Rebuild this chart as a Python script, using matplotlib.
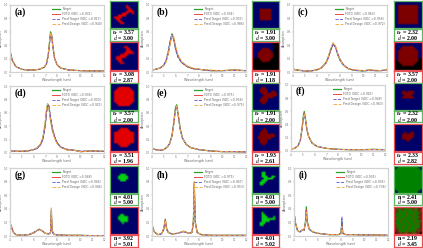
import matplotlib; matplotlib.use("Agg")
import matplotlib.pyplot as plt
import numpy as np

W, H = 423, 248
plt.rcParams["font.family"] = "DejaVu Sans"
plt.rcParams["mathtext.fontset"] = "stix"

COL = {"n": (0, 0, 105), "r": (225, 0, 0), "D": (125, 0, 0), "k": (0, 0, 0), "g": (0, 130, 0),
       "G": (0, 205, 20), "o": (90, 85, 0), "b": (110, 30, 25)}

XTICKS = [4, 5, 6, 7, 8, 9, 10, 11, 12]
YTICKS = [0, .2, .4, .6, .8, 1.0]

# ---- spectra ----
A_WL = [4, 4.05, 4.2, 4.5, 5, 5.5, 6, 6.5, 6.9, 7.1, 7.25, 7.35, 7.45, 7.55, 7.65, 7.8, 8, 8.3, 9, 10, 11, 12]
A_TARGET = [.30, .28, .17, .08, .04, .03, .03, .04, .07, .12, .25, .42, .60, .55, .38, .20, .11, .06, .03, .02, .015, .015]
A_FDTD = [.30, .28, .17, .08, .04, .03, .03, .04, .07, .12, .24, .40, .57, .54, .38, .20, .11, .06, .03, .02, .015, .015]
A_PRED_T = [.29, .27, .17, .08, .04, .03, .03, .04, .07, .12, .24, .41, .58, .53, .36, .19, .11, .06, .03, .02, .015, .015]
A_PRED_D = [.31, .28, .16, .08, .04, .03, .03, .04, .07, .13, .26, .43, .59, .53, .36, .19, .11, .06, .03, .02, .015, .015]

B_WL = [4, 4.3, 4.7, 5, 5.2, 5.4, 5.55, 5.7, 5.85, 6, 6.2, 6.5, 7, 7.5, 8, 9, 10, 11, 12]
B_TARGET = [.03, .04, .06, .10, .16, .30, .45, .57, .50, .36, .24, .15, .08, .05, .04, .02, .02, .03, .02]
B_FDTD = [.03, .04, .06, .10, .16, .29, .44, .55, .50, .37, .25, .15, .08, .05, .04, .02, .02, .03, .02]
B_PRED_T = [.03, .04, .06, .11, .18, .33, .48, .56, .47, .33, .22, .14, .08, .05, .04, .02, .02, .02, .02]
B_PRED_D = [.03, .04, .06, .10, .15, .28, .42, .55, .52, .39, .26, .16, .09, .06, .04, .03, .02, .03, .02]

C_WL = [4, 4.3, 5, 5.5, 6, 6.4, 6.8, 7, 7.2, 7.4, 7.6, 7.8, 8, 8.3, 8.7, 9.2, 10, 10.5, 11, 11.5, 12]
C_TARGET = [.04, .03, .015, .015, .03, .06, .14, .22, .33, .42, .38, .27, .18, .10, .05, .025, .015, .03, .02, .02, .04]
C_FDTD = [.05, .03, .015, .015, .03, .06, .13, .21, .32, .41, .39, .28, .19, .11, .05, .03, .02, .03, .02, .02, .03]
C_PRED_T = [.04, .03, .015, .015, .03, .06, .13, .21, .32, .41, .37, .26, .17, .10, .05, .025, .015, .02, .02, .02, .03]
C_PRED_D = [.05, .03, .02, .015, .03, .06, .14, .23, .35, .44, .39, .28, .18, .10, .05, .03, .02, .03, .03, .02, .04]

D_WL = [4, 4.5, 5, 5.5, 6, 6.3, 6.6, 6.8, 7, 7.1, 7.2, 7.3, 7.45, 7.6, 7.8, 8, 8.3, 8.8, 9.5, 10, 11, 12]
D_TARGET = [.03, .025, .025, .03, .05, .07, .13, .22, .44, .62, .73, .70, .50, .35, .23, .15, .09, .05, .04, .02, .03, .025]
D_FDTD = [.03, .025, .025, .03, .05, .07, .13, .21, .42, .60, .72, .71, .52, .37, .24, .16, .09, .05, .04, .02, .03, .025]
D_PRED_T = [.03, .03, .025, .03, .05, .07, .12, .20, .40, .58, .71, .72, .54, .38, .25, .16, .09, .06, .04, .03, .03, .025]
D_PRED_D = [.03, .025, .03, .03, .05, .08, .14, .24, .47, .65, .74, .69, .48, .33, .22, .14, .08, .05, .04, .02, .03, .03]

E_WL = [4, 4.05, 4.3, 4.7, 5, 5.3, 5.5, 5.7, 5.85, 6, 6.1, 6.25, 6.4, 6.6, 6.9, 7.3, 8, 9, 10, 11, 12]
E_TARGET = [.06, .07, .05, .04, .05, .09, .14, .26, .45, .68, .72, .55, .36, .22, .13, .08, .05, .03, .02, .02, .015]
E_FDTD = [.06, .07, .05, .04, .05, .09, .14, .25, .43, .65, .69, .55, .36, .22, .13, .08, .05, .03, .02, .02, .015]
E_PRED_T = [.05, .06, .05, .04, .05, .09, .14, .26, .44, .66, .69, .53, .35, .22, .13, .08, .05, .03, .02, .02, .015]
E_PRED_D = [.06, .07, .05, .04, .05, .09, .14, .25, .43, .65, .70, .55, .36, .22, .13, .08, .05, .03, .02, .02, .015]

F_WL = [4, 4.3, 4.6, 4.8, 4.95, 5.05, 5.13, 5.22, 5.35, 5.5, 5.8, 6.2, 7, 8, 9, 10, 11, 12]
F_TARGET = [.03, .04, .08, .17, .36, .53, .60, .50, .33, .22, .12, .07, .04, .025, .02, .02, .025, .02]
F_FDTD = [.03, .04, .08, .16, .34, .50, .58, .50, .33, .22, .12, .07, .04, .025, .02, .02, .02, .02]
F_PRED_T = [.03, .04, .08, .16, .35, .51, .57, .48, .32, .21, .12, .07, .04, .025, .02, .02, .02, .02]
F_PRED_D = [.03, .04, .08, .17, .35, .51, .57, .49, .33, .22, .12, .07, .04, .025, .02, .02, .025, .02]

G_WL = [4, 4.08, 4.15, 4.3, 4.5, 5, 5.6, 6, 6.3, 6.5, 6.7, 7, 7.3, 7.45, 7.52, 7.58, 7.7, 8, 9, 10, 11, 12]
G_TARGET = [.08, .15, .12, .05, .02, .01, .02, .05, .08, .10, .08, .04, .03, .05, .38, .08, .03, .015, .01, .01, .005, .005]
G_FDTD = [.09, .17, .13, .05, .02, .01, .02, .04, .08, .10, .08, .04, .03, .05, .41, .09, .03, .015, .01, .01, .005, .005]
G_PRED_T = [.08, .14, .11, .05, .02, .01, .02, .05, .08, .09, .08, .04, .03, .05, .36, .08, .03, .015, .01, .01, .005, .005]
G_PRED_D = [.09, .16, .12, .05, .02, .01, .02, .05, .08, .10, .08, .04, .03, .06, .41, .09, .03, .015, .01, .01, .005, .005]

H_WL = [4, 4.05, 4.2, 4.5, 4.8, 5, 5.13, 5.25, 5.4, 5.7, 6.2, 6.7, 7.1, 7.4, 7.52, 7.6, 7.68, 7.85, 8.2, 9, 10, 11, 12]
H_TARGET = [.17, .13, .06, .02, .03, .10, .24, .10, .05, .03, .04, .07, .04, .05, .20, .78, .20, .05, .02, .01, .01, .01, .01]
H_FDTD = [.17, .14, .06, .02, .03, .11, .25, .11, .05, .03, .04, .07, .04, .05, .22, .80, .22, .05, .02, .01, .01, .01, .01]
H_PRED_T = [.16, .13, .06, .02, .03, .09, .20, .09, .05, .03, .04, .06, .04, .05, .19, .76, .19, .05, .02, .01, .01, .01, .01]
H_PRED_D = [.17, .13, .06, .02, .03, .10, .23, .10, .05, .03, .04, .07, .04, .05, .22, .80, .21, .05, .02, .01, .01, .01, .01]

I_WL = [4, 4.05, 4.12, 4.3, 4.5, 4.7, 4.85, 4.98, 5.05, 5.12, 5.3, 5.6, 6, 7, 7.8, 8, 8.08, 8.15, 8.4, 9, 10, 11, 12]
I_TARGET = [.15, .29, .20, .08, .06, .09, .08, .22, .43, .22, .10, .06, .04, .02, .02, .04, .22, .04, .02, .02, .015, .015, .01]
I_FDTD = [.15, .28, .19, .08, .06, .09, .08, .20, .39, .21, .10, .06, .04, .02, .02, .04, .18, .04, .02, .02, .015, .015, .01]
I_PRED_T = [.14, .26, .18, .08, .06, .08, .08, .19, .36, .19, .09, .06, .04, .02, .02, .05, .28, .05, .02, .02, .015, .015, .01]
I_PRED_D = [.15, .27, .19, .08, .06, .09, .08, .19, .35, .19, .10, .06, .04, .02, .02, .04, .14, .04, .02, .02, .015, .015, .01]

# ---- structures, one letter per cell ----
A_IMG1 = ["nnnnnnnnnnnnnn", "nnnnnnnnnnnnnn", "nnnnnnnnrnnnnn", "nnnnnnnnrrnnnn", "nnnnnnnnnrrnnn",
          "nnnnnnnnrrrrnn", "nnnnnnrrrnnrnn", "nnnnrrrrnnnnnn", "nnrrrrnnnnnnnn", "nnnrrnnnnnnnnn",
          "nnnnrrnnnnnnnn", "nnnnnrrnnnnnnn", "nnnnnnnnnnnnnn", "nnnnnnnnnnnnnn"]
A_IMG2 = ["nnnnnnnnnnnnnn", "nnnnnnnnnnnnnn", "nnnnnnnrrnnnnn", "nnnnnnnnrrnnnn", "nnnnnnnnrrrnnn",
          "nnnnnnnrrrrrnn", "nnnnnrrrrnnnnn", "nnnrrrrrnnnnnn", "nnnrrrnnnnnnnn", "nnnnrrnnnnnnnn",
          "nnnnnrrnnnnnnn", "nnnnnnnnnnnnnn", "nnnnnnnnnnnnnn", "nnnnnnnnnnnnnn"]
B_IMG1 = ["nnnnnnnnnnnnnn", "nnnnnnnnnnnnnn", "nnnnnnnnnnnnnn", "nnnnnnnnnnnnnn", "nnnnDDDDDDnnnn",
          "nnnnDDDDDDnnnn", "nnnnDDDDDDnnnn", "nnnnDDDDDDnnnn", "nnnnDDDDDDnnnn", "nnnnDDDDDDnnnn",
          "nnnnnnnnnnnnnn", "nnnnnnnnnnnnnn", "nnnnnnnnnnnnnn", "nnnnnnnnnnnnnn"]
B_IMG2 = ["nnnnnnnnnnkkkk", "nnnnnnnnnnnkkk", "nnnnnnnnnnnkkk", "nnnnnDDDDnnkkk", "nnnnDDDDDDnkkk",
          "nnnDDDDDDDDkkk", "nnnDDDDDDDDkkk", "nnnDDDDDDDDkkk", "kkkkDDDDDDkkkk", "kkkkkDDDDkkkkk",
          "kkkkkkkkkkkkkk", "kkkkkkkkkkkkkk", "kkkkkkkkkkkkkk", "kkkkkkkkkkkkkk"]
C_IMG1 = ["nnnnnnnnnnnnnn", "nnnnnnnnnnnnnn", "nnDDDDDDDDDDnn", "nnDDDDDDDDDDnn", "nnDDDDDDDDDDnn",
          "nnDDDDDDDDDDnn", "nnDDDDDDDDDDnn", "nnDDDDDDDDDDnn", "nnDDDDDDDDDDnn", "nnDDDDDDDDDDnn",
          "nnDDDDDDDDDDnn", "nnDDDDDDDDDDnn", "nnnnnnnnnnnnnn", "nnnnnnnnnnnnnn"]
C_IMG2 = ["nnnnnnnnnnnnnn", "nnnnnnnnnnnnnn", "nnnnDDDDDDnnnn", "nnnDDDDDDDDnnn", "nnDDDDDDDDDDnn",
          "nnDDDDDDDDDDnn", "nnDDDDDDDDDDnn", "nnDDDDDDDDDDnn", "nnDDDDDDDDDDkk", "kkDDDDDDDDDDkk",
          "kkkDDDDDDDDkkk", "kkkkDDDDDDkkkk", "kkkkkkkkkkkkkk", "kkkkkkkkkkkkkk"]
D_IMG1 = ["nnnnnnnnnnnnnn", "nnnnnnnnnnnnnn", "nnnnrrrrrrnnnn", "nnnrrrrrrrrnnn", "nnrrrrrrrrrrnn",
          "nnrrrrrrrrrrnn", "nnrrrrrrrrrrnn", "nnrrrrrrrrrrnn", "nnrrrrrrrrrrnn", "nnrrrrrrrrrrnn",
          "nnnrrrrrrrrnnn", "nnnnrrrrrrnnnn", "nnnnnnnnnnnnnn", "nnnnnnnnnnnnnn"]
D_IMG2 = ["nnnnnnnnnnnnnn", "nnnnnnnnnnnnnn", "nnnnnrrrrnnnnn", "nnnnrrrrrrnnnn", "nnrrrrrrrrrrnn",
          "nnrrrrrrrrrrnn", "nnrrrrrrrrrrnn", "nnrrrrrrrrrrnn", "nnrrrrrrrrrrnn", "nnrrrrrrrrrrnn",
          "nnnnrrrrrrnnnn", "nnnnnrrrrnnnnn", "nnnnnnnnnnnnnn", "nnnnnnnnnnnnnn"]
E_IMG1 = ["nnnnnnnnnnnnnn", "nnnnnnnnnnnnnn", "nnnnnDDnnnnnnn", "nnnnDDDDnnnnnn", "nnnnDDDDnnDDnn",
          "nnnnnDDDDDDDDn", "nnnnnnDDDDDDDn", "nnnnnDDDDDDnnn", "nnnnDDDDnnnnnn", "nnnnDDDDnnnnnn",
          "nnnnnDDnnnnnnn", "nnnnnnnnnnnnnn", "nnnnnnnnnnnnnn", "nnnnnnnnnnnnnn"]
E_IMG2 = ["nnnnnnnnnnnnnn", "nnnnnnnnnnnnnn", "nnnnnnDnnnnnnn", "nnnnnDDDnnnnnn", "nnnnDDDDnnnnnn",
          "nnnnDDDDDDDDnn", "nnnDDDDDDDDDnn", "nnnDDDDDDDnnnn", "nnnnDDDDnnnnnn", "nnnnDDDDnnnnnn",
          "nnnnnDDnnnnnnn", "nnnnnnnnnnnnnn", "nnnnnnnnnnnnnn", "nnnnnnnnnnnnnn"]
F_IMG1 = ["nnnnnnnnnnnnnn", "nnnnnnnnnnnnnn", "nnnnnnnnnnnnnn", "nnnnnnnnnnnnnn", "nnnnDDnDDDnnnn",
          "nnnnDDDDDDnnnn", "nnnnnDDDDnnnnn", "nnnnDDDDDDnnnn", "nnnnnnnnnnnnnn", "nnnnnnnnnnnnnn",
          "nnnnnnnnnnnnnn", "nnnnnnnnnnnnnn", "nnnnnnnnnnnnnn", "nnnnnnnnnnnnnn"]
F_IMG2 = ["nnnnnnnnnnnnnn", "nnnnnnnnnnnnnn", "nnnnnnnnnnnnnn", "nnnnnnnnnnnnnn", "nnnnnDnnDDnnnn",
          "nnnnDDDDDDnnnn", "nnnnDDDDDDnnnn", "nnnnDDDDDnnnnn", "nnnnnnDDnnnnnn", "nnnnnnnnnnnnnn",
          "nnnnnnnnnnnnnn", "nnnnnnnnnnnnnn", "nnnnnnnnnnnnnn", "nnnnnnnnnnnnnn"]
G_IMG1 = ["nnnnnnnnnnnnnn", "nnnnnnnnnnnnnn", "nnnnnnnnnnnnnn", "nnnnnnnnnnnnnn", "nnnnnGGGnnnnnn",
          "nnnnGGGGGnnnnn", "nnnnGGGGGnnnnn", "nnnnnGGGnnnnnn", "nnnnnnnnnnnnnn", "nnnnnnnnnnnnnn",
          "nnnnnnnnnnnnnn", "nnnnnnnnnnnnnn", "nnnnnnnnnnnnnn", "nnnnnnnnnnnnnn"]
G_IMG2 = ["nnnnnnnnnnnnnn", "nnnnnnnnnnnnnn", "nnnnnnnnnnnnnn", "nnnnnnnnnnnnnn", "nnnnnGGnnnnnnn",
          "nnnnGGGGGnnnnn", "nnnnGGGGGnnnnn", "nnnnnGGGGnnnnn", "nnnnnnGnnnnnnn", "nnnnnnnnnnnnnn",
          "nnnnnnnnnnnnnn", "nnnnnnnnnnnnnn", "nnnnnnnnnnnnnn", "nnnnnnnnnnnnnn"]
H_IMG1 = ["nnnnnnnnnnnnnn", "nnnnnnnnnnnnnn", "nnnnnnnnnnnnnn", "nnnnnGGnnnnnnn", "nnnnnGGnnnnnnn",
          "nnnnnGGGnnGGnn", "nnnnnnGGGGGnnn", "nnnnnGGGnnnnnn", "nnnnGGGnnnnnnn", "nnnnGGnnnnnnnn",
          "nnnnnnnnnnnnnn", "nnnnnnnnnnnnnn", "nnnnnnnnnnnnnn", "nnnnnnnnnnnnnn"]
H_IMG2 = ["nnnnnnnnnnnnnn", "nnnnnnnnnnnnnn", "nnnnnnnnnnnnnn", "nnnnnGnnnnnnnn", "nnnnnGGnnnnnnn",
          "nnnnnGGGnnnGnn", "nnnnnGGGGGGGnn", "nnnnnGGGGnnnnn", "nnnnGGGnnnnnnn", "nnnnGGnnnnnnnn",
          "nnnnnnnnnnnnnn", "nnnnnnnnnnnnnn", "nnnnnnnnnnnnnn", "nnnnnnnnnnnnnn"]
I_IMG1 = ["nnggggggggggnn", "nggggggggggggn", "gggggggggggggg", "gggggggggggggg", "gggggggggggggg",
          "gggggggggggggg", "gggggggggggggg", "gggggggggggggg", "gggggggggggggg", "gggggggggggggg",
          "gggggggggggggg", "gggggggggggggg", "nggggggggggggn", "nnggggggggggnn"]
I_IMG2 = ["bboboogbbobbkb", "bogobggogbogbb", "obggogoggogobo", "bgogggogggoggb", "oggoggogogogbb",
          "bogggogggoggob", "ogogogggogogbb", "bggoggogggoggo", "oggogggoggogob", "bogggoggoggogb",
          "bgogoggoggoggb", "obggoggogggobb", "bbogggoggogbob", "kbboboobboobbk"]

# ---- captions and legend scores (SDC values estimated) ----
LETTERS = ["(a)", "(b)", "(c)", "(d)", "(e)", "(f)", "(g)", "(h)", "(i)"]
SYMS = ["er", "er", "er", "er", "er", "er", "n", "n", "n"]
TARGET_EPS = ["3.57", "1.91", "2.32", "3.57", "1.91", "2.32", "4.01", "4.01", "2.41"]
TARGET_D = ["3.00", "3.00", "2.00", "2.00", "2.00", "2.00", "5.00", "5.00", "5.00"]
DESIGN_EPS = ["3.08", "1.91", "3.57", "3.51", "1.93", "2.33", "3.92", "4.01", "2.19"]
DESIGN_D = ["2.87", "1.18", "2.00", "1.96", "2.61", "2.82", "5.01", "5.02", "3.45"]
SDC_FDTD = ["0.931", "0.934", "0.963", "0.936", "0.975", "0.943", "0.948", "0.975", "0.935"]
SDC_TGT = ["0.917", "0.933", "0.956", "0.930", "0.956", "0.948", "0.946", "0.947", "0.935"]
SDC_DSG = ["0.940", "0.986", "0.972", "0.921", "0.975", "0.963", "0.946", "0.953", "0.736"]

WAVES = [A_WL, B_WL, C_WL, D_WL, E_WL, F_WL, G_WL, H_WL, I_WL]
TARGETS = [A_TARGET, B_TARGET, C_TARGET, D_TARGET, E_TARGET, F_TARGET, G_TARGET, H_TARGET, I_TARGET]
FDTDS = [A_FDTD, B_FDTD, C_FDTD, D_FDTD, E_FDTD, F_FDTD, G_FDTD, H_FDTD, I_FDTD]
PRED_TS = [A_PRED_T, B_PRED_T, C_PRED_T, D_PRED_T, E_PRED_T, F_PRED_T, G_PRED_T, H_PRED_T, I_PRED_T]
PRED_DS = [A_PRED_D, B_PRED_D, C_PRED_D, D_PRED_D, E_PRED_D, F_PRED_D, G_PRED_D, H_PRED_D, I_PRED_D]
IMG1 = [A_IMG1, B_IMG1, C_IMG1, D_IMG1, E_IMG1, F_IMG1, G_IMG1, H_IMG1, I_IMG1]
IMG2 = [A_IMG2, B_IMG2, C_IMG2, D_IMG2, E_IMG2, F_IMG2, G_IMG2, H_IMG2, I_IMG2]

# pixel layout: axes (left, right, top, bottom), image column left/right, per-row image rows
AX_X = [(10, 104), (152, 246), (293, 387), (10, 104), (152, 246), (291, 385), (10, 104), (152, 246), (294, 388)]
AX_Y = [(5, 72), (5, 72), (5, 72), (86, 153), (86, 153), (85, 151), (168, 236), (168, 236), (168, 236)]
IM_X = [(110, 138), (252, 279), (394, 422), (110, 138), (252, 279), (394, 422), (110, 138), (252, 279), (394, 422)]
IM_Y = [(1, 28, 29, 41, 42, 70, 71, 83)] * 3 + [(83, 110, 111, 122, 124, 151, 152, 164)] * 3 \
    + [(166, 193, 194, 205, 207, 234, 235, 247)] * 3

GREEN = "#62b565"; RED = "#ea4f55"

fig = plt.figure(figsize=(W / 100, H / 100), dpi=100)

def px_axes(x0, x1, y0, y1):
    return fig.add_axes([x0 / W, 1 - y1 / H, (x1 - x0) / W, (y1 - y0) / H])

def struct(grid, box, color):
    ax = px_axes(*box)
    ax.imshow(np.array([[COL[c] for c in row] for row in grid], dtype=np.uint8), interpolation="bilinear", aspect="auto")
    ax.set_xticks([]); ax.set_yticks([])
    for s in ax.spines.values():
        s.set_color(color); s.set_linewidth(0.9)

def caption(sym, eps, d, box, color):
    ax = px_axes(*box)
    ax.set_xticks([]); ax.set_yticks([])
    for s in ax.spines.values():
        s.set_color(color); s.set_linewidth(0.9)
    name = r"\varepsilon_r" if sym == "er" else "n"
    # one text with two lines, the box is only 12 px high
    ax.text(.5, .5, rf"$\mathbf{{{name}}}$ = {eps}" + "\n" + rf"$\mathit{{d}}$ = {d}", ha="center", va="center",
            fontsize=4.2, linespacing=0.55, family="Liberation Serif", weight="bold", transform=ax.transAxes)

for i in range(9):
    ax = px_axes(AX_X[i][0], AX_X[i][1], AX_Y[i][0], AX_Y[i][1])
    ax.plot(WAVES[i], TARGETS[i], color="#2ca02c", lw=0.9, label="Target")
    ax.plot(WAVES[i], FDTDS[i], color="#e8484a", lw=0.7, label=f"FDTD (SDC ={SDC_FDTD[i]})")
    ax.plot(WAVES[i], PRED_TS[i], color="#5555dd", lw=0.6, ls="--", label=f"Pred Target (SDC ={SDC_TGT[i]})")
    ax.plot(WAVES[i], PRED_DS[i], color="#f5b04a", lw=0.7, ls="--", label=f"Pred Design (SDC ={SDC_DSG[i]})")
    ax.set_xlim(4, 12); ax.set_ylim(0, 1.0)
    ax.set_xticks(XTICKS); ax.set_yticks(YTICKS)
    ax.tick_params(labelsize=2.0, length=0.8, width=0.2, pad=0.5, colors="#777777")
    ax.set_xlabel("Wavelength (um)", fontsize=2.4, labelpad=0.4, color="#666666")
    ax.set_ylabel("Absorption", fontsize=2.4, labelpad=0.4, color="#666666")
    for s in ax.spines.values():
        s.set_color("#d2d2d2"); s.set_linewidth(0.9)
    leg = ax.legend(loc="upper right", fontsize=2.2, frameon=False, borderaxespad=0.3, labelspacing=0.3, handlelength=2.4)
    for t in leg.get_texts():
        t.set_color("#666666")
    ax.text(.05, .9, LETTERS[i], transform=ax.transAxes, fontsize=7, family="Liberation Serif", weight="bold", va="center")

    x0, x1 = IM_X[i]
    r = IM_Y[i]
    struct(IMG1[i], (x0, x1, r[0], r[1]), GREEN)
    caption(SYMS[i], TARGET_EPS[i], TARGET_D[i], (x0, x1, r[2], r[3]), GREEN)
    struct(IMG2[i], (x0, x1, r[4], r[5]), RED)
    caption(SYMS[i], DESIGN_EPS[i], DESIGN_D[i], (x0, x1, r[6], r[7]), RED)

fig.savefig("out.png", dpi=100)
